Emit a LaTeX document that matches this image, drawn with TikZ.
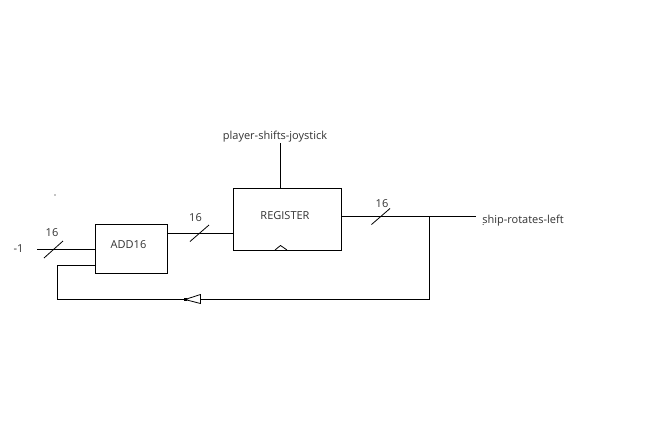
\documentclass[tikz,border=0pt]{standalone}
\usepackage{fontspec}
\setmainfont{Open Sans}
\tikzset{
  x=1pt,y=-1pt,
  wire/.style={draw=black,line width=1.2pt},
  thin wire/.style={draw=black,line width=0.8pt},
  block/.style={draw=black,line width=1.2pt,fill=white,minimum width=#1,inner sep=0pt,outer sep=0pt,anchor=north west},
  lbl/.style={font=\fontsize{11}{13}\selectfont,text=black!80,inner sep=0pt},
}
\begin{document}
\begin{tikzpicture}
\useasboundingbox[fill=white] (0,0) rectangle (660,440);
% blocks
\node[block=72pt,minimum height=49pt] (add) at (95.5,224.5) {};
\node[block=108pt,minimum height=62pt] (reg) at (233.5,188.5) {};
% free wire ends and junctions
\coordinate (inL) at (37,249.5);
\coordinate (inR) at (96,249.5);
\coordinate (fbA) at (96,265.5);
\coordinate (fbB) at (57.5,265.5);
\coordinate (fbC) at (57.5,299.5);
\coordinate (fbD) at (429.5,299.5);
\coordinate (jun) at (429.5,216.5);
\coordinate (outR) at (476,216.5);
\coordinate (outL) at (341.5,216.5);
\coordinate (jsTop) at (280.5,143);
\coordinate (regIn) at (233.5,233.5);
% wires
\draw[wire] (inL) -- (inR);
\draw[wire] (fbA) -- (fbB) -- (fbC) -- (fbD) -- (jun);
\draw[wire] (outL) -- (outR);
\draw[wire] (add.east |- regIn) -- (regIn);
\draw[wire] (jsTop) -- (jsTop |- reg.north);
% block texts
\node[lbl] (addl) at (128.5,244.5) {ADD16};
\node[lbl] (regl) at (285,215.5) {REGISTER};
% bus slashes
\draw[thin wire] (44,258) -- (63,241);
\draw[thin wire] (190,241.5) -- (209,225);
\draw[thin wire] (371.5,224.5) -- (390,208.5);
% clock marker
\draw[thin wire] (275,250) -- (280.5,245.5) -- (287,250);
% feedback arrowhead
\draw[thin wire,fill=white] (200.5,294.5) -- (185,299.5) -- (200.5,303.5) -- cycle;
\fill (184,298.3) rectangle (187,300.8);
% labels
\node[lbl] (n1) at (18.5,249) {-1};
\node[lbl] (b1) at (52,233) {16};
\node[lbl] (b2) at (195.5,218) {16};
\node[lbl] (b3) at (382,204) {16};
\node[lbl] (js) at (275,136.5) {player-shifts-joystick};
\node[lbl] (out) at (523,220.5) {ship-rotates-left};
% stray specks
\fill (55,195) circle (0.6);
\fill (483,224.5) circle (0.5);
\end{tikzpicture}
\end{document}
